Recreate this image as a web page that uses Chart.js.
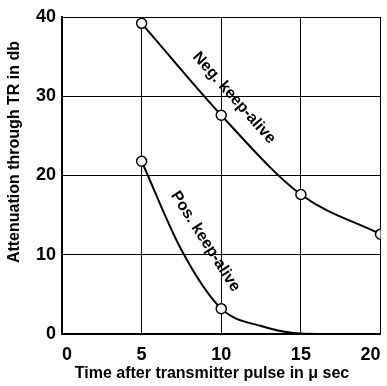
<!DOCTYPE html>
<html>
<head>
<meta charset="utf-8">
<script src="https://cdn.jsdelivr.net/npm/chart.js@4/dist/chart.umd.min.js"></script>
<style>
  html, body { margin: 0; padding: 0; background: #fff; }
  #wrap { width: 387px; height: 386px; }
</style>
</head>
<body>
<div id="wrap"><canvas id="atten"></canvas></div>
<script>
var xTicks = [0, 5, 10, 15, 20];
var yTicks = [0, 10, 20, 30, 40];

var negTime = [5, 10, 15, 20];
var negAtten = [39.2, 27.6, 17.6, 12.6];
var negMarked = [1, 1, 1, 1];

var posTime = [5, 7.5, 10, 12.5, 15, 16.5];
var posAtten = [21.8, 10.6, 3.2, 1.0, 0.05, 0];
var posMarked = [1, 0, 1, 0, 0, 0];

var curveLabels = ["Neg. keep-alive", "Pos. keep-alive"];
var labelAt = [[10.8, 29.8, 48.5], [9.0, 11.7, 57.5]];

function pts(xs, ys) {
  return xs.map(function (x, i) { return { x: x, y: ys[i] }; });
}

var ink = "#000";
var face = "'Liberation Sans', Arial, sans-serif";

var curveText = {
  id: "curveText",
  afterDatasetsDraw: function (chart) {
    var c = chart.ctx, xs = chart.scales.x, ys = chart.scales.y;
    c.save();
    c.fillStyle = ink;
    c.font = "bold 16px " + face;
    c.textAlign = "center";
    c.textBaseline = "middle";
    curveLabels.forEach(function (t, i) {
      var p = labelAt[i];
      c.save();
      c.translate(xs.getPixelForValue(p[0]), ys.getPixelForValue(p[1]));
      c.rotate(p[2] * Math.PI / 180);
      c.fillText(t, 0, 0);
      c.restore();
    });
    // axis titles
    c.font = "bold 16px " + face;
    c.fillText("Time after transmitter pulse in \u03bc sec", 212, 374);
    c.save();
    c.translate(15, 152);
    c.rotate(-Math.PI / 2);
    c.fillText("Attenuation through TR in db", 0, 0);
    c.restore();
    c.restore();
  }
};

new Chart(document.getElementById("atten"), {
  type: "line",
  data: {
    datasets: [{
      data: pts(negTime, negAtten),
      borderColor: ink,
      borderWidth: 2,
      cubicInterpolationMode: "monotone",
      pointRadius: negMarked.map(function (m) { return m ? 5 : 0; }),
      pointBackgroundColor: "#fff",
      pointBorderColor: ink,
      pointBorderWidth: 1.5
    }, {
      data: pts(posTime, posAtten),
      borderColor: ink,
      borderWidth: 2,
      cubicInterpolationMode: "monotone",
      pointRadius: posMarked.map(function (m) { return m ? 5 : 0; }),
      pointBackgroundColor: "#fff",
      pointBorderColor: ink,
      pointBorderWidth: 1.5
    }]
  },
  options: {
    responsive: true,
    maintainAspectRatio: false,
    animation: false,
    layout: { padding: { top: 17, right: 5, left: 0, bottom: 0 } },
    plugins: { legend: { display: false }, tooltip: { enabled: false } },
    scales: {
      x: {
        type: "linear",
        min: 0, max: 20,
        afterFit: function (s) { s.height = 52; s.paddingRight = 0; s.paddingLeft = 0; },
        afterBuildTicks: function (s) { s.ticks = xTicks.map(function (v) { return { value: v }; }); },
        grid: { color: ink, lineWidth: 1, drawTicks: false },
        border: { color: ink, width: 2 },
        ticks: { color: ink, padding: 10, align: "inner", font: { family: face, size: 18, weight: "bold" } }
      },
      y: {
        min: 0, max: 40,
        afterFit: function (s) { s.width = 62; },
        afterBuildTicks: function (s) { s.ticks = yTicks.map(function (v) { return { value: v }; }); },
        grid: { color: ink, lineWidth: 1, drawTicks: false },
        border: { color: ink, width: 2 },
        ticks: { color: ink, padding: 6, font: { family: face, size: 18, weight: "bold" } }
      }
    }
  },
  plugins: [curveText]
});
</script>
</body>
</html>
